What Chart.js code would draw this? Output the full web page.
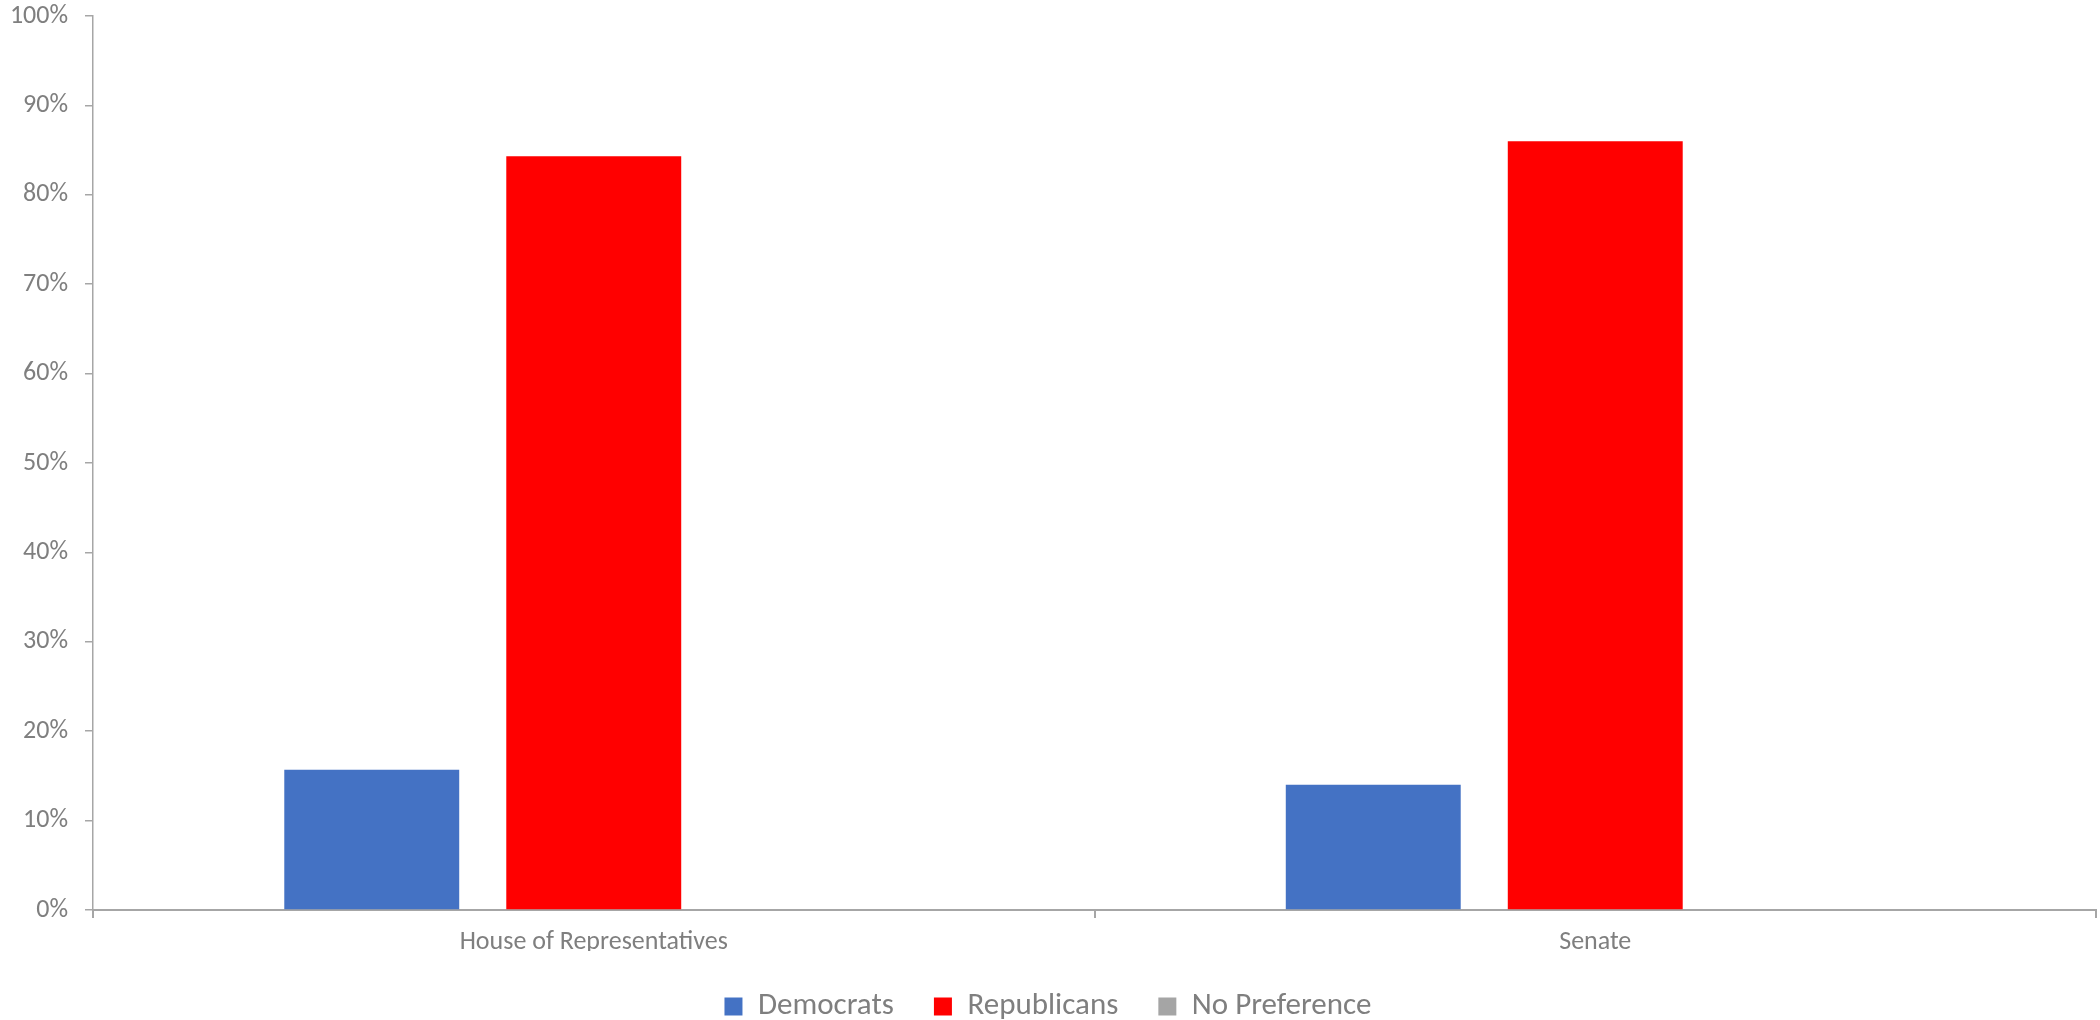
<!DOCTYPE html>
<html>
<head>
<meta charset="utf-8">
<script src="https://cdn.jsdelivr.net/npm/chart.js@4.4.1/dist/chart.umd.min.js"></script>
<style>
    html, body { margin: 0; padding: 0; background: #fff; }
    #wrap { width: 2100px; height: 1020px; }
</style>
</head>
<body>
<div id="wrap"><canvas id="chart" width="2100" height="1020"></canvas></div>
<script>
// Chart data
const chambers = ['House of Representatives', 'Senate'];
const democrats = [15.7, 14.0];
const republicans = [84.3, 86.0];
const noPreference = [0, 0];
const yTicks = [0, 10, 20, 30, 40, 50, 60, 70, 80, 90, 100];

const textColor = '#7f7f7f';
const axisColor = '#a6a6a6';
const fontFamily = 'Carlito, Lato, sans-serif';

// squeeze the legend box so it sits right under the axis labels
const legendFit = {
    id: 'legendFit',
    beforeInit(chart) {
        const fit = chart.legend.fit;
        chart.legend.fit = function() {
            fit.call(this);
            this.height = 69;
        };
    }
};

new Chart(document.getElementById('chart'), {
    type: 'bar',
    data: {
        labels: chambers,
        datasets: [
            { label: 'Democrats', data: democrats, backgroundColor: '#4472c4' },
            { label: 'Republicans', data: republicans, backgroundColor: '#ff0000' },
            { label: 'No Preference', data: noPreference, backgroundColor: '#a5a5a5' }
        ]
    },
    options: {
        responsive: false,
        animation: false,
        categoryPercentage: 0.665,
        barPercentage: 0.788,
        layout: { padding: { top: 0, right: 4, left: 0, bottom: 0 } },
        plugins: {
            tooltip: { enabled: false },
            legend: {
                position: 'bottom',
                labels: {
                    color: textColor,
                    font: { family: fontFamily, size: 31 },
                    boxWidth: 18,
                    boxHeight: 18,
                    padding: 40
                }
            }
        },
        scales: {
            x: {
                afterFit(scale) { scale.height = 41; },
                grid: {
                    drawOnChartArea: false,
                    drawTicks: true,
                    tickLength: 8,
                    color: axisColor,
                    lineWidth: 2
                },
                border: { display: true, color: axisColor, width: 2 },
                ticks: {
                    color: textColor,
                    font: { family: fontFamily, size: 26 },
                    padding: 9,
                    maxRotation: 0
                }
            },
            y: {
                min: 0,
                max: 100,
                afterFit(scale) {
                    scale.width = 93;
                    // top of the plot sits 16px below the canvas edge
                    scale.paddingTop = 16;
                    scale.paddingBottom = 16;
                },
                afterBuildTicks(scale) {
                    scale.ticks = yTicks.map(v => ({ value: v }));
                },
                grid: {
                    drawOnChartArea: false,
                    drawTicks: true,
                    tickLength: 8,
                    color: axisColor,
                    lineWidth: 1.5
                },
                border: { display: true, color: axisColor, width: 1.5 },
                ticks: {
                    color: textColor,
                    font: { family: fontFamily, size: 26 },
                    padding: 17,
                    callback: v => v + '%'
                }
            }
        }
    },
    plugins: [legendFit]
});
</script>
</body>
</html>
